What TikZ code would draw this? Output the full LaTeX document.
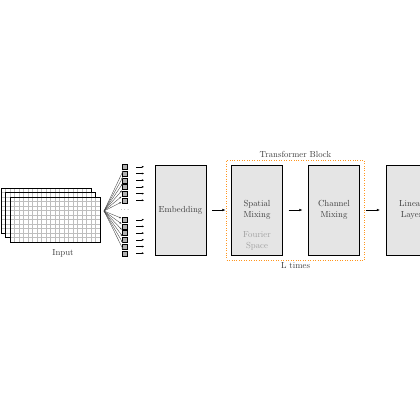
\documentclass[tikz,border=0pt]{standalone}
\usepackage{tikz}
\usepackage{xcolor}
\usetikzlibrary{arrows.meta,fit,positioning}
\definecolor{gridgray}{RGB}{190,190,190}
\definecolor{boxgray}{RGB}{229,229,229}
\definecolor{textgray}{RGB}{60,60,60}
\definecolor{fouriergray}{RGB}{160,160,160}
\definecolor{blockorange}{RGB}{255,150,30}

\begin{document}
\begin{tikzpicture}[x=0.04cm, y=-0.04cm,
    block/.style={draw, thick, fill=boxgray, text=textgray, align=center,
        minimum width=2.04cm, minimum height=3.6cm},
    patch/.style={draw, fill=black!30, minimum size=0.2cm, inner sep=0pt},
    fanarrow/.style={-{Latex[length=2.5pt,width=1.8pt]}, black!75, thin, shorten >=1pt},
    tokenarrow/.style={-{Latex[length=2.5pt,width=2pt]}, thin},
    flowarrow/.style={-{Latex[length=3.5pt,width=3pt]}, semithick,
        shorten <=6.5pt, shorten >=6.5pt}]
    \clip (0,0) rectangle (420,420);

    % Input feature maps
    \foreach \k in {0,1,2} {
        \begin{scope}[shift={(1+4.5*\k,188+4.5*\k)}]
            \fill[white] (0,0) rectangle (90,45);
            \foreach \i in {1,...,19} \draw[gridgray] (4.5*\i,0) -- (4.5*\i,45);
            \foreach \j in {1,...,9} \draw[gridgray] (0,4.5*\j) -- (90,4.5*\j);
            \draw[thick] (0,0) rectangle (90,45);
        \end{scope}
    }
    \node[text=textgray] (input) at (63,253) {Input};

    % Patches
    \coordinate (fan) at (104,211);
    \foreach \k in {0,...,5} {
        \node[patch] (pt\k) at (125,{200.3-6.7*\k}) {};
        \node[patch] (pb\k) at (125,{219.7+6.7*\k}) {};
        \draw[fanarrow] (fan) -- (pt\k);
        \draw[fanarrow] (fan) -- (pb\k);
        \draw[tokenarrow] ([xshift=0.34cm]pt\k.east) -- ++(8,0);
        \draw[tokenarrow] ([xshift=0.34cm]pb\k.east) -- ++(8,0);
    }
    \node[font=\scriptsize, inner sep=0pt] (dots) at (125,210) {$\cdots$};

    % Blocks
    \node[block] (embed) at (180.5,210) {Embedding};
    \node[block] (spatial) at (257,210) {Spatial\\Mixing};
    \node[text=fouriergray, align=center] (fourier) at (257,241) {Fourier\\Space};
    \node[block] (channel) at (334,210) {Channel\\Mixing};
    \node[block] (linear) at (411.5,210) {Linear\\Layer};

    % Transformer block
    \node[draw=blockorange, dotted, thick, inner sep=0.18cm,
        fit=(spatial)(channel)] (tblock) {};
    \node[text=textgray] (tbtitle) at (295.5,154) {Transformer Block};
    \node[text=textgray] (ltimes) at (295.5,266) {L times};

    % Flow
    \draw[flowarrow] (embed) -- (spatial);
    \draw[flowarrow] (spatial) -- (channel);
    \draw[flowarrow] (channel) -- (linear);
\end{tikzpicture}
\end{document}
